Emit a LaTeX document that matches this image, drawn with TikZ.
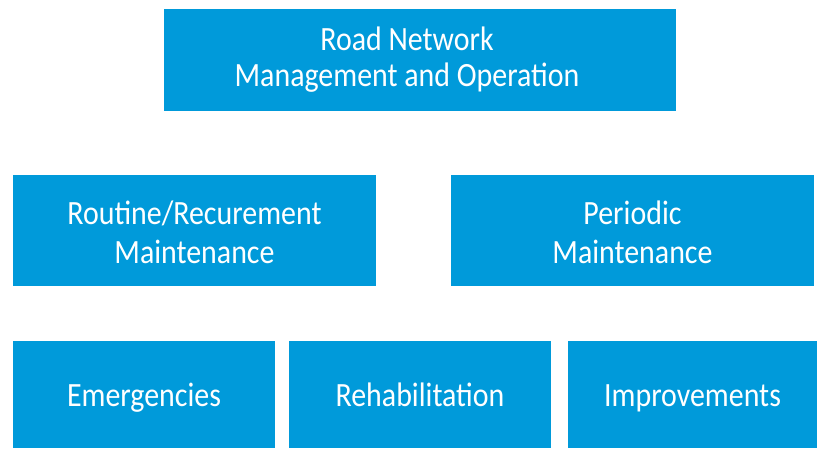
\documentclass[tikz,border=0pt]{standalone}
\usepackage{fontspec}
\setmainfont{Carlito}[FakeStretch=0.88]
\definecolor{boxblue}{RGB}{0,154,218}
\begin{document}
\begin{tikzpicture}[x=1pt,y=-1pt,
  box/.style={fill=boxblue, draw=none, inner sep=0pt, anchor=north west},
  lbl/.style={text=white, inner sep=0pt, anchor=base, font=\fontsize{34}{38}\selectfont}]
\useasboundingbox (0,0) rectangle (817,448);
\fill[white] (0,0) rectangle (817,448);
% boxes
\node[box, minimum width=512, minimum height=102] (top) at (164,9) {};
\node[box, minimum width=363, minimum height=111] (routine) at (13,175) {};
\node[box, minimum width=363, minimum height=111] (periodic) at (451,175) {};
\node[box, minimum width=262, minimum height=107] (emerg) at (13,341) {};
\node[box, minimum width=262, minimum height=107] (rehab) at (289,341) {};
\node[box, minimum width=249, minimum height=107] (impr) at (568,341) {};
% labels
\node[lbl] (topA) at (407,50) {Road Network};
\node[lbl] (topB) at (407,86.7) {Management and Operation};
\node[lbl] (routineA) at (194.5,224) {Routine/Recurement};
\node[lbl] (routineB) at (194.5,263) {Maintenance};
\node[lbl] (periodicA) at (632.5,224) {Periodic};
\node[lbl] (periodicB) at (632.5,263) {Maintenance};
\node[lbl] (emergL) at (144,406.7) {Emergencies};
\node[lbl] (rehabL) at (420,406.7) {Rehabilitation};
\node[lbl] (imprL) at (692.5,406.7) {Improvements};
\end{tikzpicture}
\end{document}
